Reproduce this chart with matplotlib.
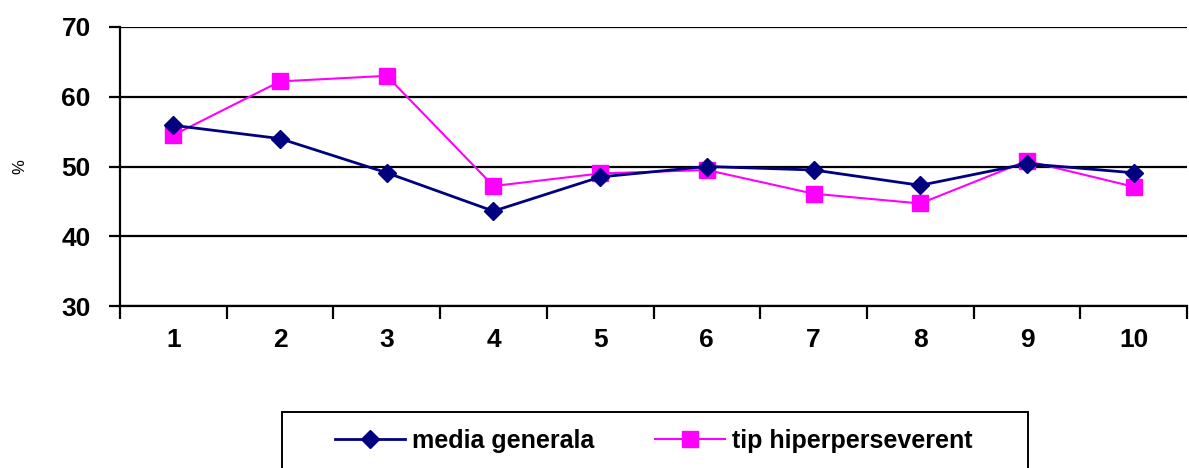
import matplotlib
matplotlib.use("Agg")
import matplotlib.pyplot as plt
from matplotlib.lines import Line2D
from matplotlib.patches import Rectangle

categories = ["1", "2", "3", "4", "5", "6", "7", "8", "9", "10"]
media_generala = [55.9, 54.0, 49.1, 43.6, 48.5, 50.0, 49.5, 47.3, 50.4, 49.1]
tip_hiperperseverent = [54.5, 62.2, 63.0, 47.2, 49.0, 49.5, 46.1, 44.7, 50.8, 47.1]
y_ticks = [30, 40, 50, 60, 70]
series_names = ["media generala", "tip hiperperseverent"]

plt.rcParams["font.family"] = ["Liberation Sans", "DejaVu Sans"]

W, H = 1189, 468
fig = plt.figure(figsize=(W / 100, H / 100), dpi=100)
left, right, top, bottom = 120, 1187, 27, 306
ax = fig.add_axes([left / W, 1 - bottom / H, (right - left) / W, (bottom - top) / H])

x = list(range(len(categories)))
navy = "#000080"
magenta = "#FF00FF"
ax.plot(x, media_generala, color=navy, lw=2, marker="D", ms=9,
        mfc=navy, mec=navy, zorder=4, clip_on=False)
ax.plot(x, tip_hiperperseverent, color=magenta, lw=1.5, marker="s", ms=11,
        mfc=magenta, mec=magenta, zorder=3, clip_on=False)

ax.set_xlim(-0.5, len(categories) - 0.5)
ax.set_ylim(30, 70)
ax.set_yticks(y_ticks)
ax.set_yticklabels([str(v) for v in y_ticks], fontsize=19, fontweight="bold")
ax.yaxis.grid(True, color="black", lw=1.6)
ax.set_axisbelow(True)

# boundary ticks between categories, labels centred on each category
ax.set_xticks([i - 0.5 for i in range(len(categories) + 1)], minor=False)
ax.set_xticklabels([])
ax.set_xticks(x, minor=True)
ax.set_xticklabels(categories, minor=True, fontsize=19, fontweight="bold")
ax.tick_params(axis="x", which="major", direction="out", length=9, width=1.6, color="black")
ax.tick_params(axis="x", which="minor", length=0, pad=16)
ax.tick_params(axis="y", direction="out", length=8, width=1.6, pad=13)

for side in ["top", "right"]:
    ax.spines[side].set_visible(False)
for side in ["left", "bottom"]:
    ax.spines[side].set_linewidth(1.6)

fig.text(20 / W, 1 - 167 / H, "%", rotation=90, fontsize=12, ha="center", va="center")

# legend box, running off the bottom edge
fig.patches.append(Rectangle((282 / W, 1 - 480 / H), (1028 - 282) / W, (480 - 412) / H,
                             transform=fig.transFigure, fill=False, ec="black", lw=1.4))
handles = [
    Line2D([], [], color=navy, lw=2, marker="D", ms=9, mfc=navy, mec=navy),
    Line2D([], [], color=magenta, lw=1.5, marker="s", ms=11, mfc=magenta, mec=magenta),
]
fig.legend(handles, series_names, loc="center left",
           bbox_to_anchor=(335 / W, 1 - 441 / H), ncol=2, frameon=False,
           prop={"size": 18, "weight": "bold"}, handlelength=2.8, borderpad=0,
           borderaxespad=0, handletextpad=0.3, columnspacing=2.4)

fig.savefig("out.png", dpi=100)
